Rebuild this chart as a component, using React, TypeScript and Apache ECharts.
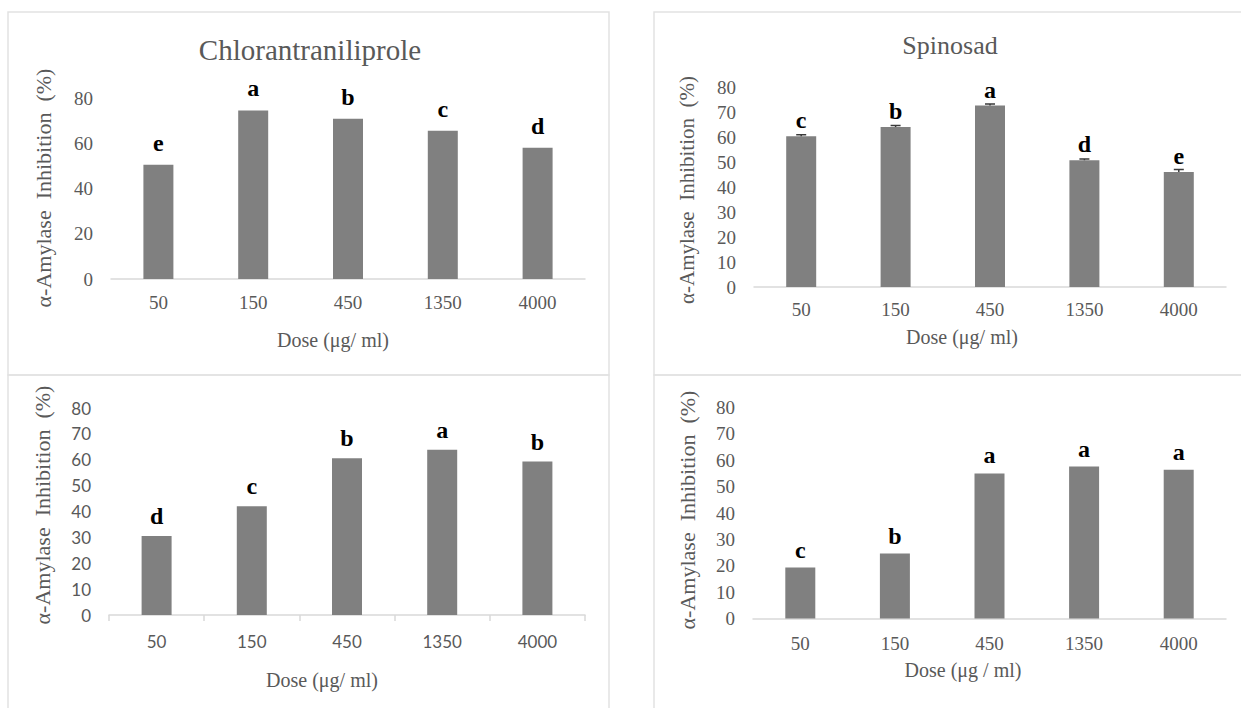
import React, { useEffect, useRef } from "react";
import * as echarts from "echarts";

const doses = ["50", "150", "450", "1350", "4000"];

const chlorTopValues = [50.5, 74.5, 70.8, 65.5, 58];
const chlorTopLetters = ["e", "a", "b", "c", "d"];

const spinTopValues = [60.3, 64, 72.6, 50.7, 46];
const spinTopErrors = [0.6, 0.6, 0.6, 0.5, 1.0];
const spinTopLetters = ["c", "b", "a", "d", "e"];

const chlorBottomValues = [30.5, 42, 60.6, 63.9, 59.3];
const chlorBottomLetters = ["d", "c", "b", "a", "b"];

const spinBottomValues = [19.3, 24.6, 55, 57.6, 56.4];
const spinBottomLetters = ["c", "b", "a", "a", "a"];

const yTitle = "α-Amylase  Inhibition  (%)";

const SERIF = "'Liberation Serif', 'Times New Roman', serif";
const SANS = "Lato, 'Noto Sans', sans-serif";
const GRAY = "#595959";
const BAR = "#808080";
const AXIS = "#d9d9d9";

export default function App() {
  const ref = useRef<HTMLDivElement>(null);

  useEffect(() => {
    if (!ref.current) return;
    const chart = echarts.init(ref.current, null, { renderer: "svg" });

    const grids = [
      { left: 111, top: 98, width: 474, height: 181 },
      { left: 754, top: 87, width: 472, height: 200 },
      { left: 109, top: 408, width: 476, height: 207 },
      { left: 753, top: 407.5, width: 473, height: 211 },
    ];

    const fonts = [SERIF, SERIF, SANS, SERIF];
    const fontSizes = [19, 19, 17, 19];
    const intervals = [20, 10, 10, 10];
    const labelMargins = [14, 13, 18, 15];

    const xAxes = grids.map((_, i) => ({
      type: "category",
      gridIndex: i,
      data: doses,
      axisLine: { show: true, lineStyle: { color: AXIS, width: 1.5 } },
      axisTick: {
        show: i === 2,
        length: 6,
        lineStyle: { color: AXIS, width: 1.5 },
      },
      axisLabel: {
        color: GRAY,
        fontFamily: fonts[i],
        fontSize: fontSizes[i],
        margin: labelMargins[i],
      },
      splitLine: { show: false },
    }));

    const yAxes = grids.map((_, i) => ({
      type: "value",
      gridIndex: i,
      min: 0,
      max: 80,
      interval: intervals[i],
      axisLine: { show: false },
      axisTick: { show: false },
      splitLine: { show: false },
      axisLabel: {
        color: GRAY,
        fontFamily: fonts[i],
        fontSize: fontSizes[i],
        margin: 18,
      },
    }));

    const letterLabel = (letters: string[], distance: number) => ({
      show: true,
      position: "top",
      distance,
      formatter: (p: any) => letters[p.dataIndex],
      color: "#000",
      fontFamily: SERIF,
      fontWeight: "bold",
      fontSize: 24,
    });

    const barSeries = (
      i: number,
      values: number[],
      letters: string[],
      distance: number
    ) => ({
      type: "bar",
      xAxisIndex: i,
      yAxisIndex: i,
      data: values,
      barWidth: 30,
      itemStyle: { color: BAR },
      label: letterLabel(letters, distance),
      z: 2,
    });

    const errorData = spinTopValues.map((v, k) => [k, v, spinTopErrors[k]]);

    const errorSeries = {
      type: "custom",
      xAxisIndex: 1,
      yAxisIndex: 1,
      data: errorData,
      z: 3,
      renderItem: (params: any, api: any) => {
        const idx = api.value(0);
        const v = api.value(1);
        const e = api.value(2);
        const base = api.coord([idx, v]);
        const top = api.coord([idx, v + e]);
        return {
          type: "group",
          children: [
            {
              type: "line",
              shape: { x1: base[0], y1: base[1], x2: top[0], y2: top[1] },
              style: { stroke: "#3a3a3a", lineWidth: 1.5 },
            },
            {
              type: "line",
              shape: { x1: top[0] - 5, y1: top[1], x2: top[0] + 5, y2: top[1] },
              style: { stroke: "#3a3a3a", lineWidth: 1.5 },
            },
          ],
        };
      },
    };

    const textStyle = (text: string, size: number, family = SERIF) => ({
      text,
      fill: GRAY,
      font: `${size}px ${family}`,
      textAlign: "center",
      textVerticalAlign: "middle",
    });

    const border = { fill: "none", stroke: "#e2e2e2", lineWidth: 1.5 };

    const graphic = [
      { type: "rect", shape: { x: 8, y: 12, width: 601, height: 363 }, style: border, silent: true },
      { type: "rect", shape: { x: 8, y: 375, width: 601, height: 345 }, style: border, silent: true },
      { type: "rect", shape: { x: 654, y: 12, width: 600, height: 363 }, style: border, silent: true },
      { type: "rect", shape: { x: 654, y: 375, width: 600, height: 345 }, style: border, silent: true },
      { type: "text", x: 310, y: 50, style: textStyle("Chlorantraniliprole", 29) },
      { type: "text", x: 950, y: 45, style: textStyle("Spinosad", 26) },
      { type: "text", x: 333, y: 340, style: textStyle("Dose (μg/ ml)", 20) },
      { type: "text", x: 962, y: 337, style: textStyle("Dose (μg/ ml)", 20) },
      { type: "text", x: 322, y: 680, style: textStyle("Dose (μg/ ml)", 20) },
      { type: "text", x: 963, y: 670, style: textStyle("Dose (μg / ml)", 20) },
      { type: "text", x: 43, y: 188, rotation: Math.PI / 2, style: textStyle(yTitle, 22) },
      { type: "text", x: 687, y: 190, rotation: Math.PI / 2, style: textStyle(yTitle, 21) },
      { type: "text", x: 42, y: 505, rotation: Math.PI / 2, style: textStyle(yTitle, 22) },
      { type: "text", x: 687, y: 510, rotation: Math.PI / 2, style: textStyle(yTitle, 22) },
    ];

    chart.setOption({
      animation: false,
      backgroundColor: "#ffffff",
      grid: grids,
      xAxis: xAxes,
      yAxis: yAxes,
      series: [
        barSeries(0, chlorTopValues, chlorTopLetters, 10),
        barSeries(1, spinTopValues, spinTopLetters, 4),
        errorSeries,
        barSeries(2, chlorBottomValues, chlorBottomLetters, 8),
        barSeries(3, spinBottomValues, spinBottomLetters, 6),
      ],
      graphic,
    });

    return () => chart.dispose();
  }, []);

  return (
    <div
      ref={ref}
      style={{ position: "absolute", left: 0, top: 0, width: 1241, height: 708, background: "#fff" }}
    />
  );
}
